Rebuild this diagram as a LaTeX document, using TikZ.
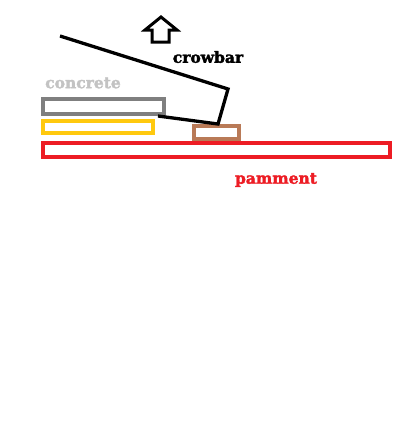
\documentclass[tikz,border=0pt]{standalone}
\usepackage{fontspec}
\newfontfamily\labelfont{DejaVu Serif Bold}[FakeBold=2]
\definecolor{cgray}{HTML}{7F7F7F}
\definecolor{clight}{HTML}{C3C3C3}
\definecolor{cyellow}{HTML}{FFC90E}
\definecolor{cbrown}{HTML}{B97A57}
\definecolor{cred}{HTML}{ED1C24}
\begin{document}
\begin{tikzpicture}[x=1pt,y=-1pt,
  slab/.style={draw, line width=3.2pt},
  lbl/.style={font=\labelfont\fontsize{15.5}{17}\selectfont, inner sep=0pt}]
\useasboundingbox[fill=white] (0,0) rectangle (400,445);
% up arrow
\draw[line width=3pt, line join=miter] (161,17) -- (177,30) -- (169,30) -- (169,42) -- (152,42) -- (152,30) -- (145,30) -- cycle;
\node[lbl, text=black] (crowbar) at (208,57) {crowbar};
\node[lbl, text=clight] (concrete) at (83,83) {concrete};
\node[lbl, text=cred] (pamment) at (276,180) {pamment};
% slabs
\draw[slab, cgray] (43,99) rectangle (164,114);
\draw[slab, cyellow] (43,121) rectangle (153,133);
\draw[slab, cbrown] (194,126) rectangle (239,139);
\draw[slab, cred] (43,143) rectangle (390,157);
% crowbar
\coordinate (c1) at (60,36);
\coordinate (c2) at (228,89);
\coordinate (c3) at (218,124);
\coordinate (c4) at (158,116);
\draw[line width=3.3pt, line join=miter] (c1) -- (c2) -- (c3) -- (c4);
\end{tikzpicture}
\end{document}
